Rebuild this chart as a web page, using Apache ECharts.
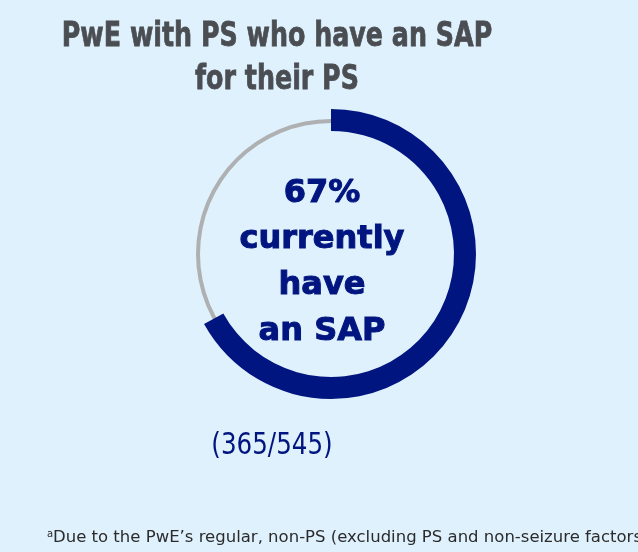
<!DOCTYPE html>
<html>
<head>
<meta charset="utf-8">
<script src="https://cdn.jsdelivr.net/npm/echarts@6/dist/echarts.min.js"></script>
<style>
  html, body { margin: 0; padding: 0; background: #dff1fd; }
  #sap-donut-chart { width: 638px; height: 552px; }
</style>
</head>
<body>
<div id="sap-donut-chart"></div>
<script>
// chart data
const titleLines = ['PwE with PS who have an SAP', 'for their PS'];
const segmentNames = ['Have an SAP', 'No SAP'];
const segmentValues = [365, 180];
const centerLines = ['67%', 'currently', 'have', 'an SAP'];
const countLabel = '(365/545)';
const footnoteText = 'Due to the PwE\u2019s regular, non-PS (excluding PS and non-seizure factors)';

const navy = '#00157f';
const total = segmentValues.reduce((a, b) => a + b, 0);

const chart = echarts.init(document.getElementById('sap-donut-chart'));
chart.setOption({
  backgroundColor: '#dff1fd',
  animation: false,
  series: [
    {
      // thin grey track behind the arc
      type: 'pie',
      silent: true,
      center: [331, 254],
      radius: [131, 135],
      label: { show: false },
      labelLine: { show: false },
      itemStyle: { color: '#aeb0b2' },
      data: [{ name: 'All', value: total }],
    },
    {
      type: 'pie',
      silent: true,
      center: [331, 254],
      radius: [123, 145],
      startAngle: 90,
      clockwise: true,
      label: { show: false },
      labelLine: { show: false },
      data: segmentNames.map((name, i) => ({
        name,
        value: segmentValues[i],
        itemStyle: { color: i === 0 ? navy : 'rgba(0,0,0,0)' },
      })),
    },
  ],
  graphic: [
    {
      type: 'text',
      x: 277,
      y: 16,
      scaleX: 0.745,
      silent: true,
      style: {
        text: titleLines.join('\n'),
        font: 'bold 34px "DejaVu Sans"',
        lineHeight: 43,
        fill: '#4a4d52',
        stroke: '#4a4d52',
        lineWidth: 0.8,
        align: 'center',
        verticalAlign: 'top',
      },
    },
    {
      type: 'text',
      x: 322,
      y: 171,
      silent: true,
      style: {
        text: centerLines.join('\n'),
        font: 'bold 32px "DejaVu Sans"',
        lineHeight: 46,
        fill: navy,
        stroke: navy,
        lineWidth: 1,
        align: 'center',
        verticalAlign: 'top',
      },
    },
    {
      type: 'text',
      x: 272,
      y: 446,
      scaleX: 0.82,
      silent: true,
      style: {
        text: countLabel,
        font: '30px "DejaVu Sans"',
        fill: navy,
        align: 'center',
        verticalAlign: 'middle',
      },
    },
    {
      type: 'text',
      x: 47,
      y: 529,
      silent: true,
      style: {
        text: 'a',
        font: '10px "DejaVu Sans"',
        fill: '#2b2b2b',
        align: 'left',
        verticalAlign: 'top',
      },
    },
    {
      type: 'text',
      x: 53,
      y: 538,
      scaleX: 1.1,
      silent: true,
      style: {
        text: footnoteText,
        font: '15px "DejaVu Sans"',
        fill: '#2b2b2b',
        align: 'left',
        verticalAlign: 'middle',
      },
    },
  ],
});
</script>
</body>
</html>
